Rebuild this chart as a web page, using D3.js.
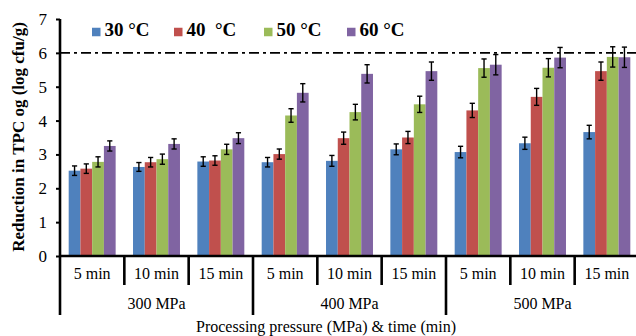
<!DOCTYPE html>
<html>
<head>
<meta charset="utf-8">
<script src="https://d3js.org/d3.v7.min.js"></script>
<style>
  body { margin: 0; background: #fff; }
</style>
</head>
<body>
<div id="chart"></div>
<script>
// pressure groups and holding times
const pressures = ['300 MPa', '400 MPa', '500 MPa'];
const times = ['5 min', '10 min', '15 min'];
const seriesNames = ['30 °C', '40  °C', '50 °C', '60 °C'];
const seriesColors = ['#4F81BD', '#C0504D', '#9BBB59', '#8064A2'];

// reduction values, one array per temperature, in order 300/5,10,15 - 400/... - 500/...
const temp30 = [2.52, 2.63, 2.79, 2.77, 2.81, 3.15, 3.07, 3.33, 3.66];
const temp40 = [2.58, 2.77, 2.82, 3.01, 3.48, 3.50, 4.30, 4.70, 5.46];
const temp50 = [2.78, 2.86, 3.15, 4.15, 4.25, 4.48, 5.55, 5.56, 5.88];
const temp60 = [3.25, 3.31, 3.48, 4.82, 5.38, 5.46, 5.65, 5.86, 5.87];

// standard deviations (error bars)
const err30 = [0.14, 0.13, 0.14, 0.14, 0.16, 0.16, 0.17, 0.18, 0.20];
const err40 = [0.14, 0.14, 0.14, 0.15, 0.18, 0.18, 0.21, 0.25, 0.27];
const err50 = [0.15, 0.15, 0.15, 0.20, 0.23, 0.24, 0.27, 0.27, 0.30];
const err60 = [0.15, 0.15, 0.16, 0.27, 0.27, 0.27, 0.30, 0.30, 0.30];

const yTicks = [0, 1, 2, 3, 4, 5, 6, 7];
const threshold = 6;

const values = [temp30, temp40, temp50, temp60];
const errors = [err30, err40, err50, err60];

const FONT = '"Liberation Serif", "DejaVu Serif", serif';

const width = 636, height = 336;
const margin = { top: 19, right: -3, bottom: 80, left: 60 };
const chartW = width - margin.left - margin.right;
const chartH = height - margin.top - margin.bottom;

const categories = [];
pressures.forEach(p => times.forEach(t => categories.push(p + '|' + t)));

const svg = d3.select('#chart').append('svg')
  .attr('width', width)
  .attr('height', height)
  .attr('font-family', FONT)
  .style('display', 'block');

const g = svg.append('g')
  .attr('transform', `translate(${margin.left},${margin.top})`);

const x0 = d3.scaleBand()
  .domain(categories)
  .range([0, chartW])
  .padding(0);

const x1 = d3.scaleBand()
  .domain(seriesNames)
  .range([0, x0.bandwidth()])
  .paddingInner(0)
  .paddingOuter(0.74);

const y = d3.scaleLinear()
  .domain([0, 7])
  .range([chartH, 0]);

// bars
categories.forEach((c, ci) => {
  const cg = g.append('g').attr('transform', `translate(${x0(c)},0)`);
  seriesNames.forEach((s, si) => {
    const v = values[si][ci];
    cg.append('rect')
      .attr('x', x1(s))
      .attr('y', y(v))
      .attr('width', x1.bandwidth())
      .attr('height', chartH - y(v))
      .attr('fill', seriesColors[si]);
  });
  seriesNames.forEach((s, si) => {
    const v = values[si][ci], e = errors[si][ci];
    const cx = x1(s) + x1.bandwidth() / 2;
    const eb = cg.append('g')
      .attr('stroke', '#000')
      .attr('stroke-width', 1.4);
    eb.append('line').attr('x1', cx).attr('x2', cx).attr('y1', y(v + e)).attr('y2', y(v - e));
    eb.append('line').attr('x1', cx - 2.6).attr('x2', cx + 2.6).attr('y1', y(v + e)).attr('y2', y(v + e));
    eb.append('line').attr('x1', cx - 2.6).attr('x2', cx + 2.6).attr('y1', y(v - e)).attr('y2', y(v - e));
  });
});

// dash-dot reference line at 6
g.append('line')
  .attr('x1', 0)
  .attr('x2', chartW)
  .attr('y1', y(threshold))
  .attr('y2', y(threshold))
  .attr('stroke', '#000')
  .attr('stroke-width', 1.8)
  .attr('stroke-dasharray', '10 4 3 4');

// y axis
const yAxis = g.append('g')
  .call(d3.axisLeft(y).tickValues(yTicks).tickFormat(d3.format('d')).tickSize(4).tickPadding(9));
yAxis.attr('font-family', FONT);
yAxis.select('.domain').attr('stroke-width', 2.6).attr('d', `M0,${chartH}V0`);
yAxis.selectAll('.tick line').attr('stroke-width', 2);
yAxis.selectAll('.tick text')
  .attr('font-size', 17)
  .attr('fill', '#000');

g.append('text')
  .attr('transform', `translate(${24 - margin.left},${137 - margin.top}) rotate(-90)`)
  .attr('text-anchor', 'middle')
  .attr('font-size', 17)
  .attr('font-weight', 'bold')
  .text('Reduction in TPC og (log cfu/g)');

// x axis: baseline, category separators, group separators
g.append('line')
  .attr('x1', 0).attr('x2', chartW)
  .attr('y1', chartH).attr('y2', chartH)
  .attr('stroke', '#000')
  .attr('stroke-width', 2.6);

categories.forEach((c, ci) => {
  const isGroupStart = ci % times.length === 0;
  g.append('line')
    .attr('x1', x0(c)).attr('x2', x0(c))
    .attr('y1', chartH).attr('y2', chartH + (isGroupStart ? 59 : 29))
    .attr('stroke', '#000')
    .attr('stroke-width', 2.6);
  g.append('text')
    .attr('x', x0(c) + x0.bandwidth() / 2)
    .attr('y', chartH + 19)
    .attr('text-anchor', 'middle')
    .attr('dominant-baseline', 'middle')
    .attr('font-size', 16)
    .text(c.split('|')[1]);
});

pressures.forEach(p => {
  const first = x0(p + '|' + times[0]);
  const last = x0(p + '|' + times[times.length - 1]) + x0.bandwidth();
  g.append('text')
    .attr('x', (first + last) / 2)
    .attr('y', chartH + 49)
    .attr('text-anchor', 'middle')
    .attr('dominant-baseline', 'middle')
    .attr('font-size', 16)
    .text(p);
});

svg.append('text')
  .attr('x', 326)
  .attr('y', 328)
  .attr('text-anchor', 'middle')
  .attr('dominant-baseline', 'middle')
  .attr('font-size', 16)
  .text('Processing pressure (MPa) & time (min)');

// legend
const legendX = [92, 174, 264, 347];
const legend = svg.append('g').attr('transform', 'translate(0,32)');
seriesNames.forEach((s, si) => {
  legend.append('rect')
    .attr('x', legendX[si])
    .attr('y', -4.25)
    .attr('width', 8.5)
    .attr('height', 8.5)
    .attr('fill', seriesColors[si]);
  legend.append('text')
    .attr('x', legendX[si] + 12.5)
    .attr('y', 0)
    .attr('dominant-baseline', 'middle')
    .attr('font-size', 19)
    .attr('font-weight', 'bold')
    .style('white-space', 'pre')
    .text(s);
});
</script>
</body>
</html>
